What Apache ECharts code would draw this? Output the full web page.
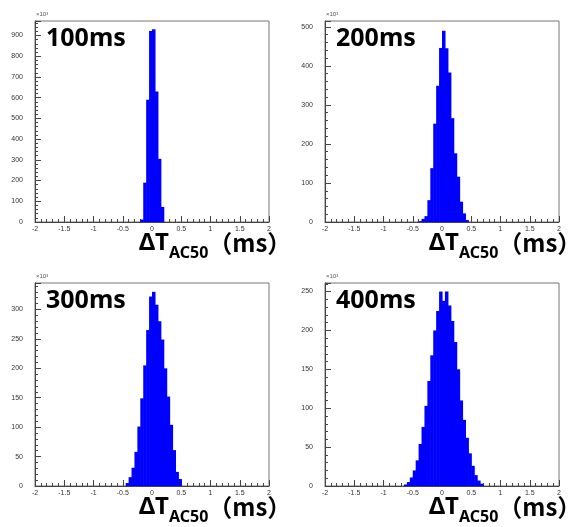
<!DOCTYPE html>
<html>
<head>
<meta charset="utf-8">
<script src="https://cdn.jsdelivr.net/npm/echarts@6/dist/echarts.min.js"></script>
<style>
  html, body { margin: 0; padding: 0; background: #fff; }
  #main { width: 583px; height: 527px; }
</style>
</head>
<body>
<div id="main"></div>
<script>
// bin width (ms) and x range of every panel
const binWidth = 0.05
const xTicks = [-2, -1.5, -1, -0.5, 0, 0.5, 1, 1.5, 2]

// panel labels
const panelNames = ['100ms', '200ms', '300ms', '400ms']

// lower edge of the first filled bin, then counts (x10^3) per bin
const lo100 = -0.2
const counts100 = [12, 190, 590, 922, 930, 630, 305, 73]

const lo200 = -0.4
const counts200 = [2, 8, 15, 56, 138, 252, 349, 446, 490, 445, 383, 266, 176, 116, 52, 22, 5]

const lo300 = -0.45
const counts300 = [5, 15, 31, 58, 101, 149, 205, 265, 322, 330, 308, 280, 249, 200, 152, 104, 61, 24, 12]

const lo400 = -0.65
const counts400 = [2, 5, 11, 20, 33, 54, 76, 103, 135, 168, 200, 225, 250, 238, 250, 232, 212, 185, 150, 110, 85, 62, 42, 26, 14, 7, 3]

// y axis ranges
const yMax = [970, 515, 345, 261]
const yStep = [100, 100, 50, 50]

const grids = [
  { left: 35, top: 21, width: 234, height: 201 },
  { left: 325, top: 21, width: 234, height: 201 },
  { left: 35, top: 283, width: 234, height: 203 },
  { left: 325, top: 283, width: 234, height: 203 }
]

// one item per bin: [low edge, high edge, count]
function histData(lo, counts) {
  return counts.map((c, i) => [lo + i * binWidth, lo + (i + 1) * binWidth, c])
}

const hists = [
  histData(lo100, counts100),
  histData(lo200, counts200),
  histData(lo300, counts300),
  histData(lo400, counts400)
]

function renderBin(params, api) {
  const p0 = api.coord([api.value(0), api.value(2)])
  const p1 = api.coord([api.value(1), 0])
  return {
    type: 'rect',
    shape: { x: p0[0], y: p0[1], width: p1[0] - p0[0] + 0.6, height: p1[1] - p0[1] },
    style: { fill: '#0000ff' }
  }
}

const axisColor = '#444'

const chart = echarts.init(document.getElementById('main'))

const graphics = []
grids.forEach((g, i) => {
  graphics.push({
    type: 'text', left: g.left + 11, top: g.top + 5,
    style: { text: panelNames[i], font: 'bold 25px "Noto Sans"', fill: '#000' }
  })
  graphics.push({
    type: 'text', left: g.left + 1, top: g.top - 10,
    style: { text: '×10³', font: '6px "Liberation Sans"', fill: '#555' }
  })
  graphics.push({
    type: 'text', left: g.left + 104, top: g.top + g.height + 9,
    style: {
      text: '{a|ΔT}{b|AC50}{c|（ms）}',
      rich: {
        a: { fontSize: 24, fontWeight: 'bold', fontFamily: 'Noto Sans', lineHeight: 36, verticalAlign: 'middle', fill: '#000' },
        b: { fontSize: 16, fontWeight: 'bold', fontFamily: 'Noto Sans', lineHeight: 36, verticalAlign: 'bottom', fill: '#000' },
        c: { fontSize: 24, fontWeight: 'bold', fontFamily: 'Noto Sans CJK SC', lineHeight: 36, verticalAlign: 'middle', fill: '#000' }
      }
    }
  })
})

const option = {
  animation: false,
  backgroundColor: '#fff',
  grid: grids.map(g => Object.assign({ show: true, borderColor: '#777', borderWidth: 1, backgroundColor: '#fff' }, g)),
  xAxis: grids.map((g, i) => ({
    gridIndex: i,
    type: 'value',
    min: xTicks[0],
    max: xTicks[xTicks.length - 1],
    interval: 0.5,
    axisLine: { show: true, onZero: false, lineStyle: { color: axisColor } },
    axisTick: { show: true, inside: true, length: 6, lineStyle: { color: axisColor } },
    minorTick: { show: true, splitNumber: 5, length: 3, lineStyle: { color: axisColor } },
    axisLabel: { fontSize: 7, color: '#333', margin: 4, fontFamily: 'Liberation Sans' },
    splitLine: { show: false }
  })),
  yAxis: grids.map((g, i) => ({
    gridIndex: i,
    type: 'value',
    min: 0,
    max: yMax[i],
    interval: yStep[i],
    axisLine: { show: true, onZero: false, lineStyle: { color: axisColor } },
    axisTick: { show: true, inside: true, length: 6, lineStyle: { color: axisColor } },
    minorTick: { show: true, splitNumber: 5, length: 3, lineStyle: { color: axisColor } },
    axisLabel: { fontSize: 7, color: '#333', margin: 12, fontFamily: 'Liberation Sans', showMaxLabel: false },
    splitLine: { show: false }
  })),
  series: hists.map((d, i) => ({
    type: 'custom',
    xAxisIndex: i,
    yAxisIndex: i,
    renderItem: renderBin,
    encode: { x: [0, 1], y: 2 },
    data: d
  })),
  graphic: graphics
}

chart.setOption(option)
</script>
</body>
</html>
